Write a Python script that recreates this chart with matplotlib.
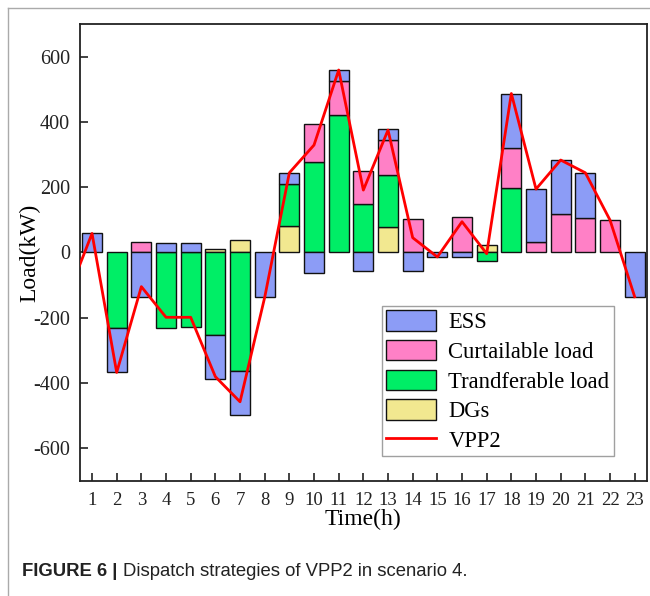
import numpy as np
import matplotlib
matplotlib.use("Agg")
import matplotlib.pyplot as plt
from matplotlib.lines import Line2D
from matplotlib.patches import Patch

plt.rcParams["font.family"] = ["Liberation Serif", "DejaVu Serif"]
plt.rcParams["axes.unicode_minus"] = False

# 시간대별 구성요소 (kW)
hours = np.arange(1, 24)
ess = [58, -137, -136, 28, 28, -134, -134, -138, 33, -64, 33, -58, 33, -58,
       -15, -15, 0, 166, 163, 166, 138, 0, -136]
curtailable = [0, 0, 31, 0, 0, 0, 0, 0, 0, 115, 105, 101, 107, 102, 0, 109,
               0, 125, 31, 117, 106, 99, 0]
transferable = [0, -231, 0, -231, -228, -254, -363, 0, 129, 278, 421, 148,
                158, 0, 0, 0, -27, 196, 0, 0, 0, 0, 0]
dgs = [0, 0, 0, 0, 0, 10, 37, 0, 82, 0, 0, 0, 79, 0, 0, 0, 22, 0, 0, 0, 0,
       0, 0]

# VPP2 라인 (0시 포함)
vpp_hours = np.arange(0, 24)
vpp2 = [-136, 58, -368, -105, -199, -199, -381, -458, -138, 244, 329, 559,
        191, 375, 45, -14, 94, -4, 487, 194, 283, 244, 99, -136]

labels = ["ESS", "Curtailable load", "Trandferable load", "DGs"]
colors = {"ESS": "#8c9cf6", "Curtailable load": "#ff80c6",
          "Trandferable load": "#00ee66", "DGs": "#f2e890"}

fig = plt.figure(figsize=(6.5, 5.96), dpi=100)
ax = fig.add_axes([0.1226, 0.1934, 0.8728, 0.7663])

# 0에서 바깥쪽으로 쌓는 순서: DG, 이전부하, 감축부하, ESS
stack = [("DGs", dgs), ("Trandferable load", transferable),
         ("Curtailable load", curtailable), ("ESS", ess)]
pos_base = np.zeros(len(hours))
neg_base = np.zeros(len(hours))
width = 0.82
for name, vals in stack:
    v = np.array(vals, dtype=float)
    p = v > 0
    n = v < 0
    ax.bar(hours[p], v[p], width, bottom=pos_base[p], color=colors[name],
           edgecolor="#111111", linewidth=1.0, zorder=2)
    ax.bar(hours[n], v[n], width, bottom=neg_base[n], color=colors[name],
           edgecolor="#111111", linewidth=1.0, zorder=2)
    pos_base[p] += v[p]
    neg_base[n] += v[n]

ax.plot(vpp_hours, vpp2, color="#ff0000", linewidth=2.0, zorder=3)

ax.set_xlim(0.5, 23.5)
ax.set_ylim(-700, 700)
ax.set_xticks(hours)
ax.set_yticks(np.arange(-600, 601, 200))
ax.tick_params(direction="in", length=6, width=1.2, labelsize=14,
               colors="#222222")
ax.tick_params(axis="x", pad=8, labelsize=13.5)
ax.tick_params(axis="y", pad=7, labelsize=14.5)
for s in ax.spines.values():
    s.set_linewidth(1.3)
    s.set_color("#222222")

ax.set_xlabel("Time(h)", fontsize=17, labelpad=0)
ax.set_ylabel("Load(kW)", fontsize=17, labelpad=-5)

handles = [Patch(facecolor=colors[l], edgecolor="#111111", linewidth=1.0)
           for l in labels]
handles.append(Line2D([0], [0], color="#ff0000", linewidth=2.0))
leg = ax.legend(handles, labels + ["VPP2"], loc="upper left",
                bbox_to_anchor=(0.532, 0.383), borderaxespad=0,
                fontsize=16.3, frameon=True, fancybox=False,
                handlelength=2.2, handleheight=1.0, handletextpad=0.55,
                labelspacing=0.3, borderpad=0.2)
leg.get_frame().set_edgecolor("#888888")
leg.get_frame().set_linewidth(1.0)

# 캡션과 패널 테두리
cap_font = ["Liberation Sans", "DejaVu Sans"]
t1 = fig.text(0.034, 0.033, "FIGURE 6 | ", fontsize=13.3, fontweight="bold",
              family=cap_font, color="#222222")
fig.canvas.draw()
bb = t1.get_window_extent()
fig.text(bb.x1 / fig.bbox.width, 0.033,
         "Dispatch strategies of VPP2 in scenario 4.",
         fontsize=13.3, family=cap_font, color="#222222")
fig.add_artist(Line2D([0.012, 0.012], [0.0, 0.987], color="#aaaaaa",
                      linewidth=1.0, transform=fig.transFigure))
fig.add_artist(Line2D([0.012, 1.0], [0.987, 0.987], color="#aaaaaa",
                      linewidth=1.0, transform=fig.transFigure))

fig.savefig("out.png", dpi=100)
